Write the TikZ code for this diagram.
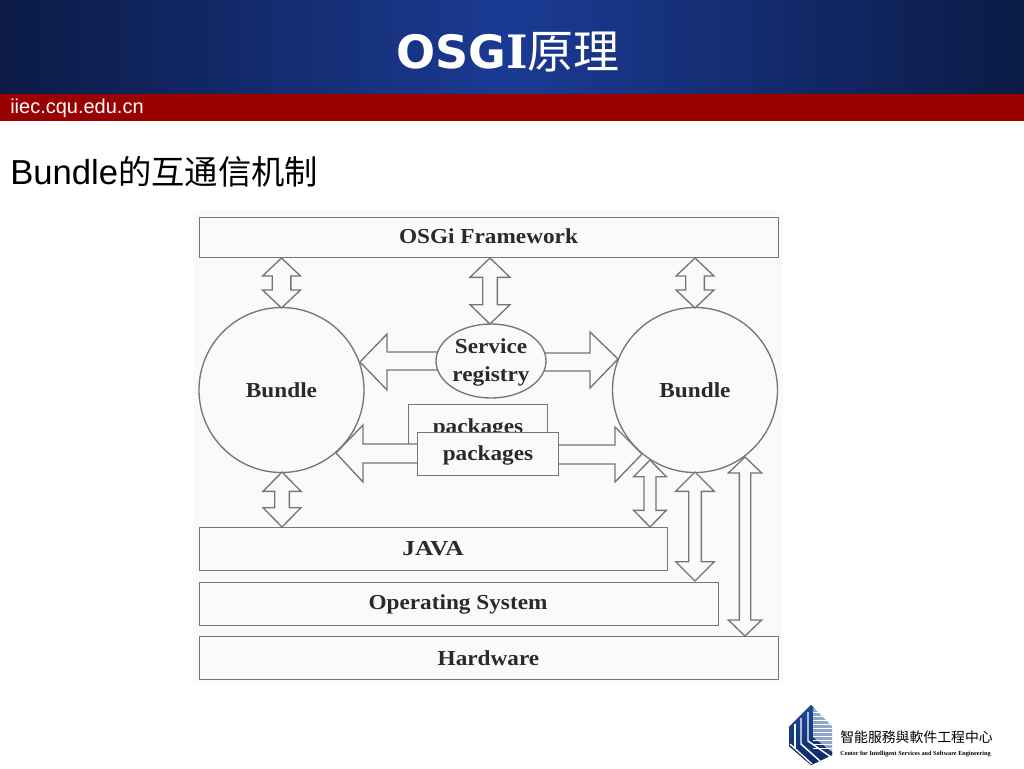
\documentclass[tikz,border=0pt]{standalone}
\usepackage{fontspec}
\setmainfont{Liberation Sans}
\newfontfamily\fserif{Liberation Serif}[FakeStretch=1.09]
\newfontfamily\fserifW{Liberation Serif}[FakeStretch=1.19]
\newfontfamily\fserifP{Liberation Serif}
\newfontfamily\fcjk{Noto Sans CJK SC}
\newfontfamily\ftitle{DejaVu Sans}
\newfontfamily\ftitleI{DejaVu Serif}
\usetikzlibrary{calc,shapes.geometric}
\definecolor{navyD}{HTML}{0B1B46}
\definecolor{navyL}{HTML}{1B3A93}
\definecolor{bandred}{HTML}{990000}
\definecolor{ink}{HTML}{757575}
\definecolor{paperc}{HTML}{F9FBFB}
\definecolor{txtc}{HTML}{2A2A2A}
\definecolor{logoB}{HTML}{1B4A9C}
\definecolor{logoD}{HTML}{0E2A66}
\definecolor{logoL}{HTML}{8FA6C8}
\tikzset{
  box/.style={draw=ink,line width=1pt,fill=paperc,inner sep=0pt,anchor=north west},
  orb/.style={draw=ink,line width=1pt,fill=paperc,circle,inner sep=0pt,minimum size=123.75pt,
     font=\fserif\bfseries\fontsize{16}{16}\selectfont,text=txtc},
  hollow/.style={draw=ink,line width=1pt,fill=paperc,line join=miter},
  lbl/.style={font=\fserif\bfseries\fontsize{16}{18}\selectfont,text=txtc,inner sep=0pt,align=center}
}
% #1 tail point, #2 head point, #3 head half width, #4 head length, #5 shaft half width
\newcommand\dblarrow[5]{%
  \coordinate (Ah) at ($(#1)!#4!(#2)$);
  \coordinate (Bh) at ($(#2)!#4!(#1)$);
  \draw[hollow] (#1) -- ($(Ah)!#3!90:(#2)$) -- ($(Ah)!#5!90:(#2)$)
    -- ($(Bh)!#5!-90:(#1)$) -- ($(Bh)!#3!-90:(#1)$) -- (#2)
    -- ($(Bh)!#3!90:(#1)$) -- ($(Bh)!#5!90:(#1)$)
    -- ($(Ah)!#5!-90:(#2)$) -- ($(Ah)!#3!-90:(#2)$) -- cycle;
}
\begin{document}
\begin{tikzpicture}[x=.75pt,y=-.75pt]
\useasboundingbox (0,0) rectangle (1024,768);
\fill[white] (0,0) rectangle (1024,768);
% header
\fill[left color=navyD,right color=navyL] (0,0) rectangle (512,94);
\fill[left color=navyL,right color=navyD] (512,0) rectangle (1024,94);
\fill[bandred] (0,94) rectangle (1024,121);
\node[anchor=base west,text=white,inner sep=0pt,font=\ftitle\bfseries\fontsize{34.5}{36}\selectfont] (title) at (396,68) {OSG{\ftitleI\bfseries I}{\fcjk\mdseries\fontsize{34.5}{36}\selectfont 原理}};
\node[anchor=base west,text=white,inner sep=0pt,font=\fontsize{15}{15}\selectfont] (site) at (10,113) {iiec.cqu.edu.cn};
\node[anchor=base west,text=black,inner sep=0pt,font=\fontsize{26}{26}\selectfont] (heading) at (10,184) {Bundle{\fcjk\fontsize{25}{26}\selectfont 的互通信机制}};
% figure paper
\fill[paperc] (193,210) rectangle (783,685);
% boxes
\node[box,minimum width=434.25pt,minimum height=30.25pt] (fw) at (199,216.5) {};
\node[lbl] at (488.5,236.5) {OSGi Framework};
\node[box,minimum width=351pt,minimum height=32.25pt] (java) at (199,527) {};
\node[lbl,font=\fserifW\bfseries\fontsize{16}{18}\selectfont] at (433,548.5) {JAVA};
\node[box,minimum width=389.25pt,minimum height=32.25pt] (os) at (199,582) {};
\node[lbl] at (458,604) {Operating System};
\node[box,minimum width=434.25pt,minimum height=32.25pt] (hw) at (199,636) {};
\node[lbl] at (488.5,658) {Hardware};
% service arrows and packages
\node[box,minimum width=104.25pt,minimum height=30pt] (pkgback) at (408,404) {};
\begin{scope}
\clip (400,400) rectangle (560,432);
\node[lbl] at (478,428) {packages};
\end{scope}
\coordinate (lpT) at (336,453);
\coordinate (rpT) at (642,454);
\draw[hollow] (417,444) -- (363,444) -- (363,425) -- (lpT) -- (363,482) -- (363,463) -- (417,463);
\draw[hollow] (558,445) -- (615,445) -- (615,427) -- (rpT) -- (615,482) -- (615,464) -- (558,464);
\node[box,minimum width=105.75pt,minimum height=32.25pt] (pkg) at (417,432) {};
\node[lbl] at (488,455.5) {packages};
% circles
\node[orb] (bl) at (281.5,390) {Bundle};
\node[orb] (br) at (695,390) {Bundle};
% service
\coordinate (lsT) at (360,362);
\coordinate (rsT) at (618,359);
\draw[hollow] (440,352) -- (387,352) -- (387,334) -- (lsT) -- (387,390) -- (387,370) -- (440,370);
\draw[hollow] (542,353) -- (590,353) -- (590,332) -- (rsT) -- (590,388) -- (590,371) -- (542,371);
\node[ellipse,draw=ink,line width=1pt,fill=paperc,minimum width=82.5pt,minimum height=55.5pt,inner sep=0pt] (sr) at (491,361) {};
\node[lbl,font=\fserif\bfseries\fontsize{16}{21}\selectfont] at (491,362.5) {Service\\registry};
% double arrows
\coordinate (a1) at (281.5,258); \coordinate (b1) at (281.5,308);
\dblarrow{a1}{b1}{14.25pt}{13.5pt}{7pt}
\coordinate (a2) at (490,258); \coordinate (b2) at (490,324);
\dblarrow{a2}{b2}{15pt}{14.5pt}{5.5pt}
\coordinate (a3) at (695,258); \coordinate (b3) at (695,308);
\dblarrow{a3}{b3}{14.25pt}{13.5pt}{7pt}
\coordinate (a4) at (282,472); \coordinate (b4) at (282,527);
\dblarrow{a4}{b4}{14.25pt}{14.5pt}{5.5pt}
\coordinate (a5) at (650,460); \coordinate (b5) at (650,527);
\dblarrow{a5}{b5}{12.25pt}{12.5pt}{4.5pt}
\coordinate (a6) at (695,472); \coordinate (b6) at (695,581);
\dblarrow{a6}{b6}{14.5pt}{14.5pt}{4.75pt}
\coordinate (a7) at (745,457); \coordinate (b7) at (745,636);
\dblarrow{a7}{b7}{12.5pt}{12pt}{4.25pt}
% logo
\fill[bottom color=logoD,top color=logoB] (811,705) -- (814,708) -- (814,738) -- (832,752) -- (832,755) -- (811,765) -- (789,746) -- (789,727) -- cycle;
\fill[logoL] (813,707) -- (832,726) -- (832,751) -- (813,737) -- cycle;
\foreach \y in {712,716,...,748}{\draw[white,line width=.45pt] (813,\y) -- (832,\y);}
\draw[white,line width=1.1pt] (795,724) -- (795,749);
\draw[white,line width=1.1pt] (801,718) -- (801,744) -- (820,761);
\draw[white,line width=1.1pt] (808,712) -- (808,741) -- (831,757);
\draw[white,line width=1pt] (790,744) -- (812,764);
\node[anchor=base west,inner sep=0pt,text=black,font=\fcjk\fontsize{10.4}{11}\selectfont] (logocn) at (840,742) {智能服務與軟件工程中心};
\node[anchor=base west,inner sep=0pt,text=black,font=\fserifP\bfseries\fontsize{4.65}{5}\selectfont] (logoen) at (840,755) {Center for Intelligent Services and Software Engineering};
\end{tikzpicture}
\end{document}
